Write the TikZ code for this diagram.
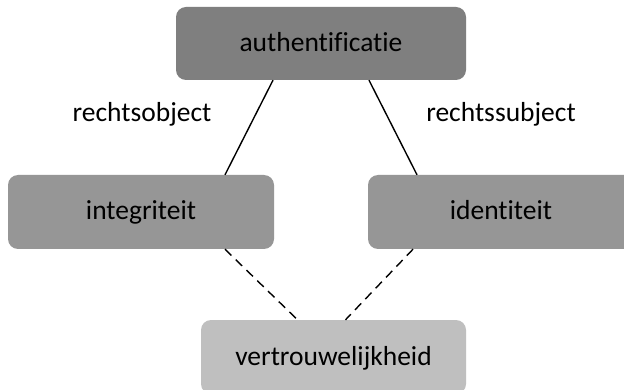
\documentclass[tikz,border=0pt]{standalone}
\usepackage{fontspec}
\setmainfont{Carlito}[Ligatures={NoCommon}]
\begin{document}
\begin{tikzpicture}[x=1pt,y=-1pt,
  box/.style={rectangle, rounded corners=10pt, inner sep=0pt, draw=none,
    font=\fontsize{27.5}{32}\selectfont, text=black, text height=18pt, text depth=2pt},
  lbl/.style={inner sep=0pt, anchor=base, font=\fontsize{27.5}{32}\selectfont, text=black},
  link/.style={line width=1.4pt, black},
  dlink/.style={line width=1.4pt, black, dash pattern=on 9pt off 6pt}]
\useasboundingbox (0,0) rectangle (624,390);
\clip (0,0) rectangle (624,390);
\fill[white] (0,0) rectangle (624,390);
\definecolor{topgray}{HTML}{7F7F7F}
\definecolor{midgray}{HTML}{969696}
\definecolor{lowgray}{HTML}{BFBFBF}
\node[box, fill=topgray, minimum width=290pt, minimum height=73pt] (auth) at (321,43.5) {authentificatie};
\node[box, fill=midgray, minimum width=266pt, minimum height=74pt] (integ) at (141,212) {integriteit};
\node[box, fill=midgray, minimum width=266pt, minimum height=74pt] (ident) at (501,212) {identiteit};
\node[box, fill=lowgray, minimum width=265pt, minimum height=74pt] (vert) at (333.5,357) {vertrouwelijkheid};
\node[lbl] (robj) at (142,122) {rechtsobject};
\node[lbl] (rsubj) at (501,122) {rechtssubject};
\draw[link] ([xshift=-48pt]auth.south) -- ([xshift=84pt]integ.north);
\draw[link] ([xshift=48pt]auth.south) -- ([xshift=-84pt]ident.north);
\draw[dlink] ([xshift=84pt]integ.south) -- ([xshift=-36pt]vert.north);
\draw[dlink] ([xshift=-88pt]ident.south) -- ([xshift=12pt]vert.north);
\end{tikzpicture}
\end{document}
